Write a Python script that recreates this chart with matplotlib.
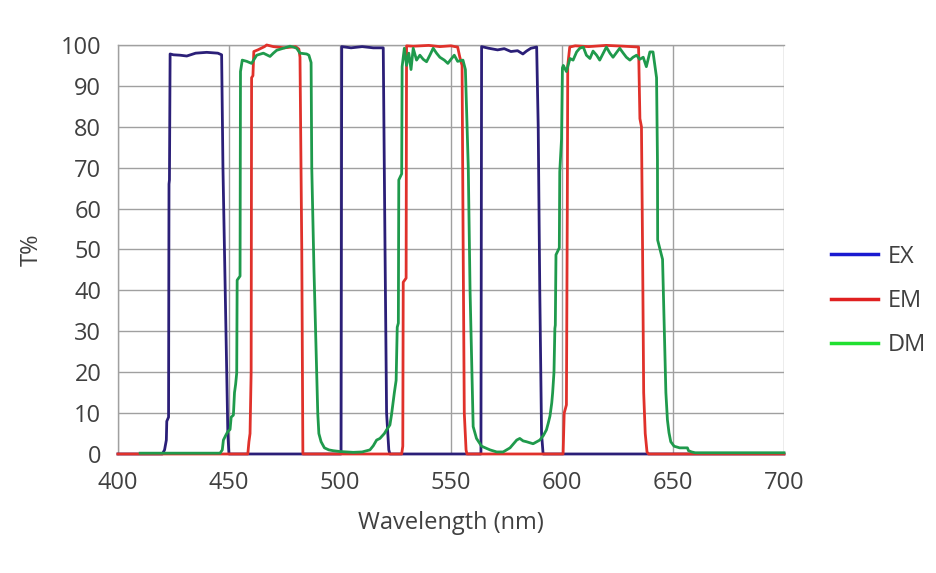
import matplotlib
matplotlib.use("Agg")
import matplotlib.pyplot as plt
from matplotlib.lines import Line2D

# EX (excitation) transmission, wavelength in nm / T in %
ex_nm = [400, 420, 421, 421.8, 422, 422.8, 423, 423.2, 423.5, 425, 428, 431, 435, 440, 445,
         446.7, 447.3, 449, 449.5, 450,
         500.5, 500.8, 505, 510, 515, 519.5, 520.3, 521, 522, 522.5,
         563.5, 563.8, 567, 571, 574, 577, 580, 582.4, 584, 586, 588.6, 589.3, 590, 590.8, 591.5,
         700]
ex_t = [0, 0, 1, 3.4, 8, 9, 66, 67, 97.8, 97.6, 97.5, 97.3, 98, 98.2, 98,
        97.6, 70, 20, 5, 0,
        0, 99.6, 99.3, 99.6, 99.3, 99.3, 50, 10, 1, 0,
        0, 99.6, 99.2, 98.8, 99.1, 98.4, 98.6, 97.8, 98.5, 99.2, 99.5, 80, 40, 5, 0,
        0]

# EM (emission)
em_nm = [400, 458.5, 459, 459.5, 460, 460.2, 460.8, 461.2, 463, 466, 467, 470, 475, 480, 481.5,
         482, 482.8, 483.3,
         527.8, 528.3, 528.5, 529.8, 530, 533, 540, 545, 550, 551.8, 553, 554, 555, 555.5,
         556, 556.8, 557.2,
         600.5, 601, 601.5, 602, 602.4, 602.6, 603.5, 606, 612, 620, 628, 634.5, 635.1,
         635.8, 636.3, 636.8, 637.5, 638.3, 639, 700]
em_t = [0, 0, 3, 5, 20, 92, 92.5, 98.4, 98.8, 99.6, 100, 99.6, 99.3, 99.6, 99,
        97, 50, 0,
        0, 1.9, 42, 43, 99.8, 99.7, 99.9, 99.6, 99.8, 99.6, 99.5, 97, 95, 50,
        10, 1, 0,
        0, 10, 11, 12, 60, 95, 99.5, 99.8, 99.6, 99.9, 99.7, 99.5, 82,
        80, 50, 15, 5, 0.5, 0, 0]

# DM (dichroic mirror)
dm_nm = [410, 446, 447, 447.5, 448.5, 449.5, 450.5, 451, 452, 452.5, 453, 453.5, 453.7, 455,
         455.2, 456, 458, 460.2, 462.5, 465.5, 468.5, 470, 471.5, 474.5, 477.5, 479, 480.5,
         482, 485, 486, 487, 487.3, 488.3, 489.5, 490, 490.5, 491.5, 493, 495, 497, 500,
         503, 506, 510, 513.5, 515, 516.5, 518, 520, 521, 522.5, 523.2, 524.5, 525.3, 525.8,
         526.3, 526.5, 527.8, 528, 529, 530, 531, 532, 533, 534.5, 536, 537.5, 539, 540.5,
         542, 543.5, 545, 547, 548.6, 550, 551.5, 553, 555.4, 556.5, 557.8, 558.6, 560,
         561.5, 563.8, 567.6, 570.6, 573.5, 576.6, 579.6, 581, 582.5, 584, 587, 590, 591.6,
         593, 593.8, 594.6, 595.4, 595.8, 596.4, 596.8, 597, 597.3, 598.8, 599, 599.8,
         600.2, 600.6, 602, 603.6, 605, 606.6, 608, 609.6, 611, 612.6, 614, 615.6, 617,
         618.6, 620, 621.6, 623, 626, 627.6, 629, 630.6, 632, 633.6, 635, 636.6, 638,
         639.6, 641, 641.9, 642.6, 643, 643.1, 645.3, 646.4, 646.8, 647.5, 648.2, 649,
         650.5, 653, 656.5, 657, 658.4, 660, 700]
dm_t = [0.2, 0.2, 1, 3.4, 4.5, 5.5, 6, 9, 9.5, 15, 17, 19.8, 42.5, 43.5,
        93.5, 96.3, 96, 95.5, 97.5, 98, 97.2, 98, 98.7, 99.2, 99.7, 99.5, 99.2,
        98, 97.8, 97.5, 95.7, 70, 45, 20, 10, 5, 3, 1.5, 1, 0.8, 0.6,
        0.5, 0.4, 0.5, 1, 2, 3.4, 3.8, 5, 5.9, 7.1, 9.5, 15, 18, 31,
        32, 67, 68.5, 94.7, 99.2, 95, 98, 94, 99.2, 96.3, 97.5, 96.5, 95.9, 97.5,
        99.2, 98, 97, 96.3, 95.5, 96.5, 97.5, 96, 96.3, 94, 70, 40, 6.7,
        3.8, 1.9, 1, 0.5, 0.5, 1.5, 3.4, 3.8, 3.2, 3, 2.5, 3.4, 4.5,
        5.9, 7.5, 9.3, 12.5, 15, 20, 30.7, 31.5, 48.7, 50.4, 69, 77,
        94.4, 95, 93.5, 96.7, 96.3, 98.3, 99.2, 99.5, 97.5, 96.7, 98.5, 97.5, 96.3,
        98, 99.5, 98, 97, 99.2, 98, 97, 96.3, 97, 97.5, 96.5, 97, 94.7,
        98.3, 98.3, 94.7, 92, 72, 52.3, 47.6, 23, 15, 8.3, 5.2, 3,
        1.9, 1.5, 1.5, 0.8, 0.5, 0.3, 0.3]

x_ticks = [400, 450, 500, 550, 600, 650, 700]
y_ticks = list(range(0, 101, 10))

plt.rcParams['font.family'] = ['Open Sans', 'DejaVu Sans']
text_color = '#404040'
fsize = 17

fig = plt.figure(figsize=(9.36, 5.73), dpi=100)
ax = fig.add_axes([0.126, 0.2077, 0.7116, 0.7138])

ax.plot(ex_nm, ex_t, color='#2b1f78', lw=2, clip_on=False, zorder=3)
ax.plot(em_nm, em_t, color='#e0312b', lw=2, clip_on=False, zorder=4)
ax.plot(dm_nm, dm_t, color='#1f9a4c', lw=2, clip_on=False, zorder=5)

ax.set_xlim(400, 700)
ax.set_ylim(0, 100)
ax.set_xticks(x_ticks)
ax.set_yticks(y_ticks)
ax.grid(True, color='#a0a0a0', lw=1)
ax.set_axisbelow(True)
ax.tick_params(length=0, labelsize=fsize, labelcolor=text_color, pad=12)

for side in ['right', 'bottom']:
    ax.spines[side].set_visible(False)
for side in ['left', 'top']:
    ax.spines[side].set_color('#a0a0a0')
    ax.spines[side].set_linewidth(1)

ax.set_xlabel('Wavelength (nm)', fontsize=fsize, color=text_color, labelpad=12)
ax.set_ylabel('T%', fontsize=fsize, color=text_color, labelpad=12)

handles = [Line2D([], [], color='#1a1ad0', lw=2.5),
           Line2D([], [], color='#e02020', lw=2.5),
           Line2D([], [], color='#20e030', lw=2.5)]
leg = fig.legend(handles, ['EX', 'EM', 'DM'], loc='center left',
                 bbox_to_anchor=(0.865, 0.475), frameon=False, fontsize=fsize,
                 handlelength=2.0, handletextpad=0.4, labelspacing=0.85)
for t in leg.get_texts():
    t.set_color(text_color)

fig.savefig('out.png', dpi=100)
